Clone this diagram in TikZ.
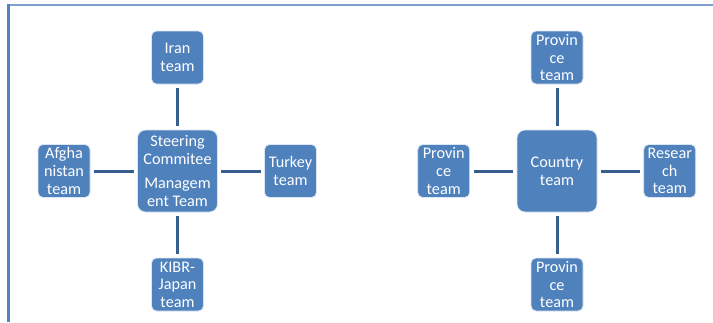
\documentclass[tikz,border=0pt]{standalone}
\usepackage{fontspec}
\setmainfont{Carlito}
\definecolor{boxblue}{RGB}{79,129,189}
\definecolor{lineblue}{RGB}{56,94,142}
\definecolor{frameblue}{RGB}{84,130,196}
\definecolor{framelight}{RGB}{125,160,208}
\begin{document}
\begin{tikzpicture}[x=1pt,y=-1pt,
  teambox/.style={rectangle, rounded corners=5pt, draw=white!80!boxblue, line width=0.8pt,
    fill=boxblue, text=white, align=center, inner sep=0pt,
    minimum width=52pt, minimum height=53pt,
    font=\fontsize{16.2}{17.6}\selectfont},
  bigbox/.style={teambox, rounded corners=8pt, minimum width=80pt, minimum height=82pt},
  conn/.style={draw=lineblue, line width=3pt, shorten >=3.5pt, shorten <=3.5pt}]
\useasboundingbox (0,0) rectangle (713,322);
% frame
\draw[framelight, line width=2pt] (8,5) -- (713,5);
\draw[frameblue, line width=2.2pt] (8.5,4.2) -- (8.5,322);
% left group
\node[bigbox] (steer) at (177.5,171) {Steering\\Commitee\\[7pt]Managem\\ent Team};
\node[teambox] (iran) at (177.5,57.5) {Iran\\team};
\node[teambox] (afg) at (64,171) {Afgha\\nistan\\team};
\node[teambox] (turkey) at (290.5,171) {Turkey\\team};
\node[teambox] (kibr) at (177.5,284.5) {KIBR-\\Japan\\team};
\draw[conn] (iran) -- (steer);
\draw[conn] (steer) -- (kibr);
\draw[conn] (afg) -- (steer);
\draw[conn] (steer) -- (turkey);
% right group
\node[bigbox] (country) at (557,171) {Country\\team};
\node[teambox] (ptop) at (557,57.5) {Provin\\ce\\team};
\node[teambox] (pleft) at (443.7,171) {Provin\\ce\\team};
\node[teambox] (research) at (669.7,171) {Resear\\ch\\team};
\node[teambox] (pbot) at (557,284.5) {Provin\\ce\\team};
\draw[conn] (ptop) -- (country);
\draw[conn] (country) -- (pbot);
\draw[conn] (pleft) -- (country);
\draw[conn] (country) -- (research);
\end{tikzpicture}
\end{document}
